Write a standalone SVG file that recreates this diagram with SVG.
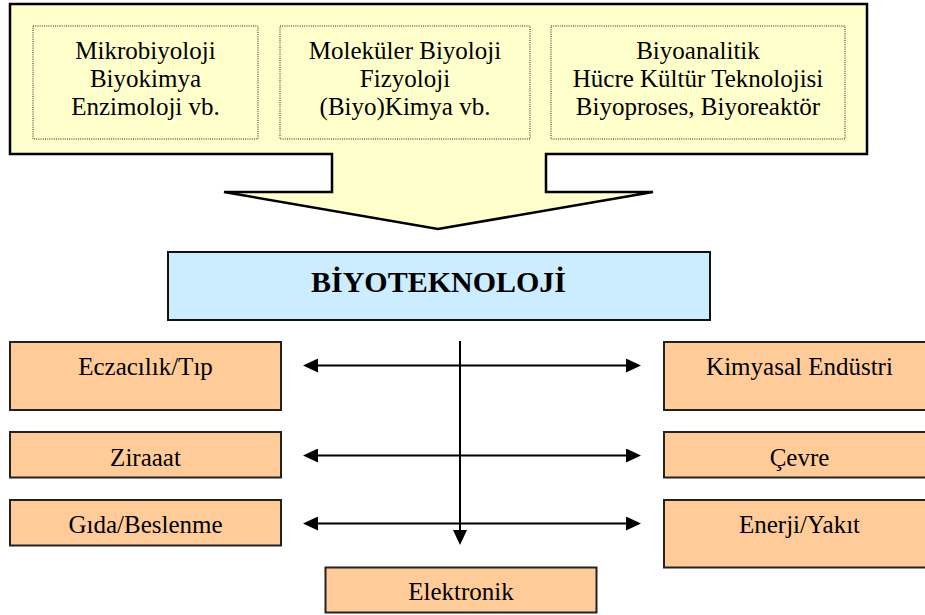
<svg xmlns="http://www.w3.org/2000/svg" width="925" height="615" viewBox="0 0 925 615">
  <style>
    .label { font-size: 25px; fill: #000; text-anchor: middle; }
    .title { font-size: 30px; font-weight: bold; fill: #000; text-anchor: middle; }
    .callout { fill: #FFFFCC; stroke: #000; stroke-width: 2.5; stroke-linejoin: miter; }
    .field { fill: none; stroke: #222; stroke-width: 1; stroke-dasharray: 1 1.2; }
    .core { fill: #CCECFF; stroke: #111; stroke-width: 2; }
    .app { fill: #FFCC99; stroke: #222; stroke-width: 2; }
    .conn { stroke: #000; stroke-width: 2; fill: none; }
  </style>
  <defs>
    <marker id="arrow" viewBox="0 0 15 14" refX="12" refY="7" markerWidth="15" markerHeight="14" markerUnits="userSpaceOnUse" orient="auto-start-reverse">
      <path d="M0,0 L15,7 L0,14 Z" fill="#000"/>
    </marker>
  </defs>

  <!-- source disciplines: callout arrow pointing down -->
  <g id="disciplines">
    <path class="callout" d="M10,4 L867,4 L867,154 L546,154 L546,192 L653,192 L438,229 L224,192 L332,192 L332,154 L10,154 Z"/>
    <g id="field-micro">
      <rect class="field" x="33" y="26" width="225" height="113"/>
      <text class="label" font-family="Liberation Serif" x="145.5" y="59">Mikrobiyoloji</text>
      <text class="label" font-family="Liberation Serif" x="145.5" y="87">Biyokimya</text>
      <text class="label" font-family="Liberation Serif" x="145.5" y="115">Enzimoloji vb.</text>
    </g>
    <g id="field-molecular">
      <rect class="field" x="280" y="26" width="250" height="113"/>
      <text class="label" font-family="Liberation Serif" x="405" y="59">Moleküler Biyoloji</text>
      <text class="label" font-family="Liberation Serif" x="405" y="87">Fizyoloji</text>
      <text class="label" font-family="Liberation Serif" x="405" y="115">(Biyo)Kimya vb.</text>
    </g>
    <g id="field-process">
      <rect class="field" x="551" y="26" width="294" height="113"/>
      <text class="label" font-family="Liberation Serif" x="698" y="59">Biyoanalitik</text>
      <text class="label" font-family="Liberation Serif" x="698" y="87">Hücre Kültür Teknolojisi</text>
      <text class="label" font-family="Liberation Serif" x="698" y="115">Biyoproses, Biyoreaktör</text>
    </g>
  </g>

  <g id="biyoteknoloji">
    <rect class="core" x="168" y="252" width="542" height="68"/>
    <text class="title" font-family="Liberation Serif" x="438.5" y="292">BİYOTEKNOLOJİ</text>
  </g>

  <!-- application areas -->
  <g id="eczacilik">
    <rect class="app" x="10" y="342" width="271" height="68"/>
    <text class="label" font-family="Liberation Serif" x="145.5" y="375">Eczacılık/Tıp</text>
  </g>
  <g id="ziraat">
    <rect class="app" x="10" y="432" width="271" height="45.5"/>
    <text class="label" font-family="Liberation Serif" x="145.5" y="465.5">Ziraaat</text>
  </g>
  <g id="gida">
    <rect class="app" x="10" y="500" width="271" height="45.5"/>
    <text class="label" font-family="Liberation Serif" x="145.5" y="533">Gıda/Beslenme</text>
  </g>
  <g id="kimyasal">
    <rect class="app" x="664" y="342" width="271" height="68"/>
    <text class="label" font-family="Liberation Serif" x="799.5" y="375">Kimyasal Endüstri</text>
  </g>
  <g id="cevre">
    <rect class="app" x="664" y="432" width="271" height="45.5"/>
    <text class="label" font-family="Liberation Serif" x="799.5" y="465.5">Çevre</text>
  </g>
  <g id="enerji">
    <rect class="app" x="664" y="500" width="271" height="67.5"/>
    <text class="label" font-family="Liberation Serif" x="799.5" y="533">Enerji/Yakıt</text>
  </g>
  <g id="elektronik">
    <rect class="app" x="325.5" y="567.5" width="271" height="45"/>
    <text class="label" font-family="Liberation Serif" x="461" y="600">Elektronik</text>
  </g>

  <g id="connectors">
    <line class="conn" x1="460" y1="341" x2="460" y2="542" marker-end="url(#arrow)"/>
    <line class="conn" x1="306" y1="365.5" x2="638" y2="365.5" marker-start="url(#arrow)" marker-end="url(#arrow)"/>
    <line class="conn" x1="306" y1="455.5" x2="638" y2="455.5" marker-start="url(#arrow)" marker-end="url(#arrow)"/>
    <line class="conn" x1="306" y1="523.5" x2="638" y2="523.5" marker-start="url(#arrow)" marker-end="url(#arrow)"/>
  </g>
</svg>
